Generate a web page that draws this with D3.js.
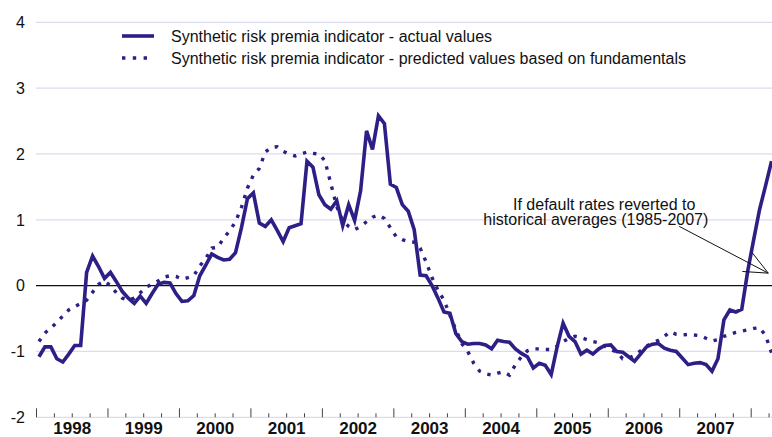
<!DOCTYPE html>
<html>
<head>
<meta charset="utf-8">
<script src="https://cdn.jsdelivr.net/npm/d3@7"></script>
<style>
  body { margin: 0; background: #fff; }
  text { font-family: "Liberation Sans", Arial, sans-serif; fill: #111; }
</style>
</head>
<body>
<svg id="chart"></svg>
<script>
// monthly observations, Jan 1998 .. Apr 2008
const yearLabels = ["1998", "1999", "2000", "2001", "2002", "2003", "2004", "2005", "2006", "2007"];
const yTicks = [-2, -1, 0, 1, 2, 3, 4];

const actual = [
    -1.08, -0.93, -0.93, -1.11, -1.16, -1.04, -0.91, -0.91, 0.20, 0.45, 0.29, 0.11,
    0.20, 0.06, -0.09, -0.19, -0.27, -0.16, -0.27, -0.12, 0.02, 0.05, 0.04, -0.12,
    -0.24, -0.23, -0.15, 0.15, 0.31, 0.48, 0.43, 0.39, 0.40, 0.50, 0.88, 1.32,
    1.41, 0.95, 0.90, 1.00, 0.84, 0.67, 0.88, 0.91, 0.94, 1.89, 1.80, 1.38,
    1.23, 1.16, 1.29, 0.91, 1.23, 0.99, 1.44, 2.35, 2.07, 2.58, 2.46, 1.54,
    1.49, 1.23, 1.13, 0.85, 0.16, 0.15, 0.00, -0.19, -0.40, -0.42, -0.73, -0.85,
    -0.89, -0.88, -0.88, -0.90, -0.96, -0.83, -0.85, -0.86, -0.96, -1.03, -1.08, -1.25,
    -1.18, -1.21, -1.35, -0.93, -0.57, -0.77, -0.85, -1.04, -0.98, -1.04, -0.96, -0.91,
    -0.90, -1.00, -1.01, -1.08, -1.15, -1.04, -0.93, -0.89, -0.88, -0.95, -0.98, -1.00,
    -1.10, -1.20, -1.18, -1.17, -1.20, -1.30, -1.11, -0.52, -0.37, -0.40, -0.36, 0.22,
    0.70, 1.16, 1.52, 1.89
];

const predicted = [
    -0.85, -0.72, -0.64, -0.56, -0.46, -0.37, -0.32, -0.27, -0.22, -0.10, 0.02, 0.07,
    0.00, -0.11, -0.19, -0.22, -0.19, -0.11, -0.02, 0.02, 0.07, 0.13, 0.15, 0.14,
    0.10, 0.12, 0.15, 0.30, 0.41, 0.57, 0.58, 0.72, 0.83, 0.97, 1.19, 1.48,
    1.68, 1.78, 2.03, 2.10, 2.11, 2.04, 2.00, 1.97, 2.00, 2.03, 2.01, 2.00,
    1.90, 1.55, 1.20, 0.98, 0.90, 0.85, 0.90, 0.97, 1.04, 1.07, 1.02, 0.88,
    0.74, 0.70, 0.67, 0.66, 0.57, 0.36, 0.12, -0.07, -0.22, -0.45, -0.67, -0.88,
    -1.00, -1.18, -1.30, -1.34, -1.36, -1.33, -1.31, -1.36, -1.20, -1.08, -0.99, -0.96,
    -0.96, -0.97, -0.97, -0.92, -0.85, -0.80, -0.77, -0.79, -0.82, -0.85, -0.87, -0.92,
    -0.97, -1.01, -1.11, -1.10, -1.06, -0.99, -0.92, -0.87, -0.83, -0.77, -0.70, -0.74,
    -0.75, -0.74, -0.75, -0.76, -0.80, -0.84, -0.82, -0.77, -0.74, -0.71, -0.69, -0.67,
    -0.65, -0.64, -0.76, -1.02
];

const legendLabels = [
    "Synthetic risk premia indicator - actual values",
    "Synthetic risk premia indicator - predicted values based on fundamentals"
];
const noteLines = ["If default rates reverted to", "historical averages (1985-2007)"];

const width = 772, height = 437;
const lineColor = "#2c1f86";
const gridColor = "#dddbef";

const svg = d3.select("#chart").attr("width", width).attr("height", height);

// x in months since Jan 1998
const x = d3.scaleLinear().domain([0, 120]).range([36, 750.7]);
const y = d3.scaleLinear().domain([-2, 4]).range([417.3, 22.3]);
const xEnd = 772;

// grid
svg.selectAll("line.grid")
    .data(yTicks.filter(d => d !== 0))
    .enter().append("line")
    .attr("class", "grid")
    .attr("x1", x(0)).attr("x2", xEnd)
    .attr("y1", d => y(d)).attr("y2", d => y(d))
    .attr("stroke", gridColor).attr("stroke-width", 1.2);

svg.append("line")
    .attr("x1", x(0)).attr("x2", xEnd)
    .attr("y1", y(0)).attr("y2", y(0))
    .attr("stroke", "#111").attr("stroke-width", 1.3);

// y labels
svg.selectAll("text.ylab")
    .data(yTicks)
    .enter().append("text")
    .attr("class", "ylab")
    .attr("x", 25)
    .attr("y", d => y(d))
    .attr("dy", "0.36em")
    .attr("text-anchor", "end")
    .style("font-size", "16px")
    .text(d => d);

// x ticks: years and quarters
const axisY = y(-2);
const yearTicks = d3.range(0, 121, 12);
const quarterTicks = d3.range(0, 124, 3).filter(d => d % 12 !== 0);

const yearAxis = d3.axisTop(x).tickValues(yearTicks).tickSize(9).tickFormat("");
const quarterAxis = d3.axisTop(x).tickValues(quarterTicks).tickSize(4).tickFormat("");
[yearAxis, quarterAxis].forEach(ax => {
    const g = svg.append("g").attr("transform", `translate(0,${axisY})`).call(ax);
    g.select(".domain").remove();
    g.selectAll("line").attr("stroke", "#444").attr("stroke-width", 1);
});

// year labels centred in each year
const labelAxis = d3.axisBottom(x)
    .tickValues(yearLabels.map((d, i) => i * 12 + 6))
    .tickSize(0)
    .tickFormat((d, i) => yearLabels[i]);
const lg = svg.append("g").attr("transform", `translate(0,${axisY})`).call(labelAxis);
lg.select(".domain").remove();
lg.selectAll("text")
    .attr("y", 17)
    .attr("dy", 0)
    .style("font-family", '"Liberation Sans", Arial, sans-serif')
    .style("font-size", "17px")
    .style("font-weight", "bold")
    .attr("fill", "#111");

// series
const line = d3.line()
    .x((d, i) => x(i + 0.5))
    .y(d => y(d));

svg.append("path")
    .datum(predicted)
    .attr("fill", "none")
    .attr("stroke", lineColor)
    .attr("stroke-width", 3.4)
    .attr("stroke-dasharray", "3.4,7")
    .attr("d", line);

svg.append("path")
    .datum(actual)
    .attr("fill", "none")
    .attr("stroke", lineColor)
    .attr("stroke-width", 3.6)
    .attr("stroke-linejoin", "miter")
    .attr("d", line);

// legend
const legend = svg.append("g");
legendLabels.forEach((label, i) => {
    const ly = 36 + i * 22;
    legend.append("line")
        .attr("x1", 122).attr("x2", 154)
        .attr("y1", ly).attr("y2", ly)
        .attr("stroke", lineColor)
        .attr("stroke-width", 3.6)
        .attr("stroke-dasharray", i === 0 ? null : "3.4,7.4");
    legend.append("text")
        .attr("x", 171)
        .attr("y", ly)
        .attr("dy", "0.36em")
        .style("font-size", "16px")
        .text(label);
});

// annotation with arrow
const note = svg.append("g");
note.append("text")
    .attr("x", x(95.4)).attr("y", 210)
    .attr("text-anchor", "middle")
    .style("font-size", "16px")
    .text(noteLines[0]);
note.append("text")
    .attr("x", x(94.0)).attr("y", 225)
    .attr("text-anchor", "middle")
    .style("font-size", "16px")
    .text(noteLines[1]);

const tip = [x(122.95), y(0.19)];
const tail = [x(108.0), y(0.9)];
note.append("line")
    .attr("x1", tail[0]).attr("y1", tail[1])
    .attr("x2", tip[0]).attr("y2", tip[1])
    .attr("stroke", "#111").attr("stroke-width", 1);
const ang = Math.atan2(tip[1] - tail[1], tip[0] - tail[0]);
[-0.42, 0.42].forEach(a => {
    note.append("line")
        .attr("x1", tip[0]).attr("y1", tip[1])
        .attr("x2", tip[0] - 26 * Math.cos(ang + a))
        .attr("y2", tip[1] - 26 * Math.sin(ang + a))
        .attr("stroke", "#111").attr("stroke-width", 1);
});
</script>
</body>
</html>
